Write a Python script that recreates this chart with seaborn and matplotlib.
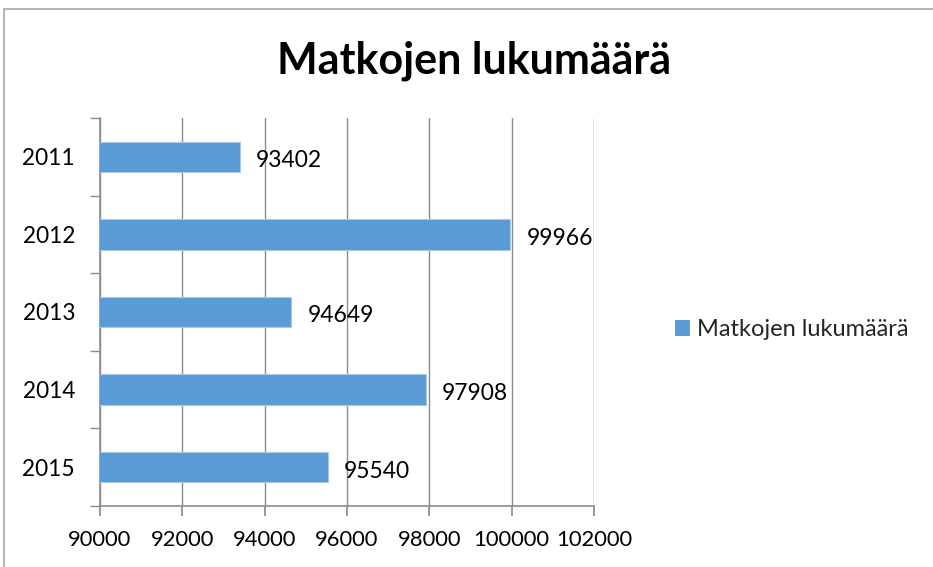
import pandas as pd
import numpy as np
import seaborn as sns
import matplotlib.pyplot as plt
from matplotlib.patches import Rectangle

years = ['2011', '2012', '2013', '2014', '2015']
trips = [93402, 99966, 94649, 97908, 95540]
series_name = 'Matkojen lukumäärä'
x_ticks = [90000, 92000, 94000, 96000, 98000, 100000, 102000]

sns.set_theme(style='white')
plt.rcParams['font.family'] = ['Lato', 'DejaVu Sans']

df = pd.DataFrame({'year': years, 'trips': trips})

fig = plt.figure(figsize=(9.33, 5.67), dpi=100)
# light gray frame around the whole chart, like an Excel chart object
fig.patches.append(Rectangle((4 / 933, -0.05), 1.1, 1.05 - 9 / 567, transform=fig.transFigure,
                             fill=False, edgecolor='#a6a6a6', linewidth=1.2))

ax = fig.add_axes([100 / 933, 1 - 506 / 567, 494 / 933, 388 / 567])
sns.barplot(data=df, x='trips', y='year', orient='h', color='#5b9bd5', width=0.39,
            saturation=1, edgecolor='#a9c8eb', linewidth=0.8, ax=ax, zorder=3)

ax.set_xlim(90000, 102000)
ax.set_ylim(4.5, -0.5)
ax.set_xticks(x_ticks)
ax.set_xticklabels([str(t) for t in x_ticks], fontsize=15.8, color='black')
ax.set_yticks(range(len(years)))
ax.set_yticklabels(years, fontsize=16.3, color='black')
ax.set_xlabel('')
ax.set_ylabel('')

ax.grid(axis='x', color='#8c8c8c', linewidth=1, zorder=0)
ax.set_axisbelow(True)
for side in ['top', 'right']:
    ax.spines[side].set_visible(False)
for side in ['left', 'bottom']:
    ax.spines[side].set_color('#8c8c8c')
    ax.spines[side].set_linewidth(1.2)

# y ticks sit on the category boundaries
ax.set_yticks(np.arange(-0.5, 5, 1), minor=True)
ax.tick_params(axis='y', which='major', length=0, pad=18)
ax.tick_params(axis='y', which='minor', length=7, color='#8c8c8c', direction='out', left=True)
ax.tick_params(axis='x', which='major', length=7, color='#8c8c8c', direction='out', bottom=True, pad=10)

for i, v in enumerate(trips):
    ax.annotate(str(v), (v, i), xytext=(16, -4), textcoords='offset pixels',
                va='center', ha='left', fontsize=16.5, color='black')

fig.text(474 / 933, 1 - 61 / 567, series_name, ha='center', va='center',
         fontsize=31, fontweight='bold', color='black')

handle = Rectangle((0, 0), 1, 1, facecolor='#5b9bd5', edgecolor='none')
fig.legend([handle], [series_name], loc='center left', bbox_to_anchor=(663 / 933, 1 - 330 / 567),
           frameon=False, fontsize=17, handlelength=0.65, handleheight=0.65, handletextpad=0.3,
           borderpad=0)

fig.savefig('out.png', dpi=100)
